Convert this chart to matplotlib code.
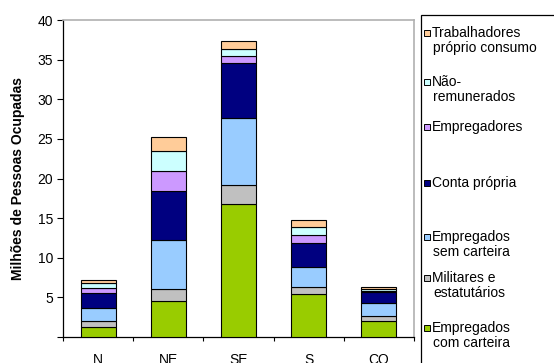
import matplotlib.pyplot as plt
import numpy as np
from matplotlib.patches import Rectangle

plt.rcParams['font.family'] = ['Liberation Sans', 'DejaVu Sans']

regioes = ['N', 'NE', 'SE', 'S', 'CO']

# milhões de pessoas ocupadas, por posição na ocupação (de baixo para cima)
com_carteira = [1.27, 4.52, 16.76, 5.37, 2.07]
militares = [0.72, 1.48, 2.44, 0.88, 0.64]
sem_carteira = [1.64, 6.24, 8.44, 2.57, 1.64]
conta_propria = [1.90, 6.20, 6.92, 3.00, 1.31]
empregadores = [0.60, 2.45, 0.93, 1.09, 0.20]
nao_remunerados = [0.63, 2.53, 0.89, 1.01, 0.25]
proprio_consumo = [0.38, 1.82, 1.01, 0.90, 0.18]

series = [
    ('Empregados\ncom carteira', com_carteira, '#99CC00'),
    ('Militares e\nestatutários', militares, '#C0C0C0'),
    ('Empregados\nsem carteira', sem_carteira, '#99CCFF'),
    ('Conta própria', conta_propria, '#000080'),
    ('Empregadores', empregadores, '#CC99FF'),
    ('Não-\nremunerados', nao_remunerados, '#CCFFFF'),
    ('Trabalhadores\npróprio consumo', proprio_consumo, '#FFCC99'),
]

W, H = 554, 363
fig = plt.figure(figsize=(W / 100, H / 100), dpi=100)
ax = fig.add_axes([63 / W, 1 - 337 / H, (414 - 63) / W, (337 - 20) / H])

x = np.arange(1, len(regioes) + 1)
base = np.zeros(len(regioes))
for nome, valores, cor in series:
    ax.bar(x, valores, width=0.5, bottom=base, color=cor,
           edgecolor='black', linewidth=0.8, zorder=3)
    base += np.array(valores)

ax.set_xlim(0.5, len(regioes) + 0.5)
ax.set_ylim(0, 40)

# rótulos das regiões no centro, marcas de divisão entre categorias
ax.set_xticks(np.arange(0.5, len(regioes) + 1, 1))
ax.set_xticklabels([])
ax.set_xticks(x, minor=True)
ax.set_xticklabels(regioes, minor=True, fontsize=10)
ax.tick_params(axis='x', which='major', length=3, direction='out')
ax.tick_params(axis='x', which='minor', length=0, pad=11.5)

ax.set_yticks(np.arange(0, 41, 5))
ax.set_yticklabels([''] + [str(v) for v in range(5, 41, 5)], fontsize=10)
ax.tick_params(axis='y', length=4, direction='out', pad=3)

ax.set_ylabel('Milhões de Pessoas Ocupadas', fontsize=10, fontweight='bold',
              labelpad=9)

for lado in ['top', 'right']:
    ax.spines[lado].set_color('#B0B0B0')
    ax.spines[lado].set_linewidth(1.2)
for lado in ['left', 'bottom']:
    ax.spines[lado].set_color('black')
    ax.spines[lado].set_linewidth(0.9)

# legenda desenhada à mão, em pixels da figura
def px(xp, yp):
    return xp / W, 1 - yp / H

moldura = Rectangle(px(421, 372), 150 / W, (372 - 15) / H,
                    transform=fig.transFigure, fill=False,
                    edgecolor='black', linewidth=0.9, clip_on=False)
fig.add_artist(moldura)

linha_y = [328, 278, 237, 183, 127, 82, 33]
for (nome, valores, cor), y0 in zip(series, linha_y):
    marca = Rectangle(px(424, y0 + 3), 6 / W, 6 / H,
                      transform=fig.transFigure, facecolor=cor,
                      edgecolor='black', linewidth=0.7)
    fig.add_artist(marca)
    for i, parte in enumerate(nome.split('\n')):
        xt = 432 if i == 0 else 433
        fig.text(*px(xt, y0 + i * 15), parte, fontsize=10, va='center',
                 ha='left')

fig.savefig('out.png', dpi=100)
